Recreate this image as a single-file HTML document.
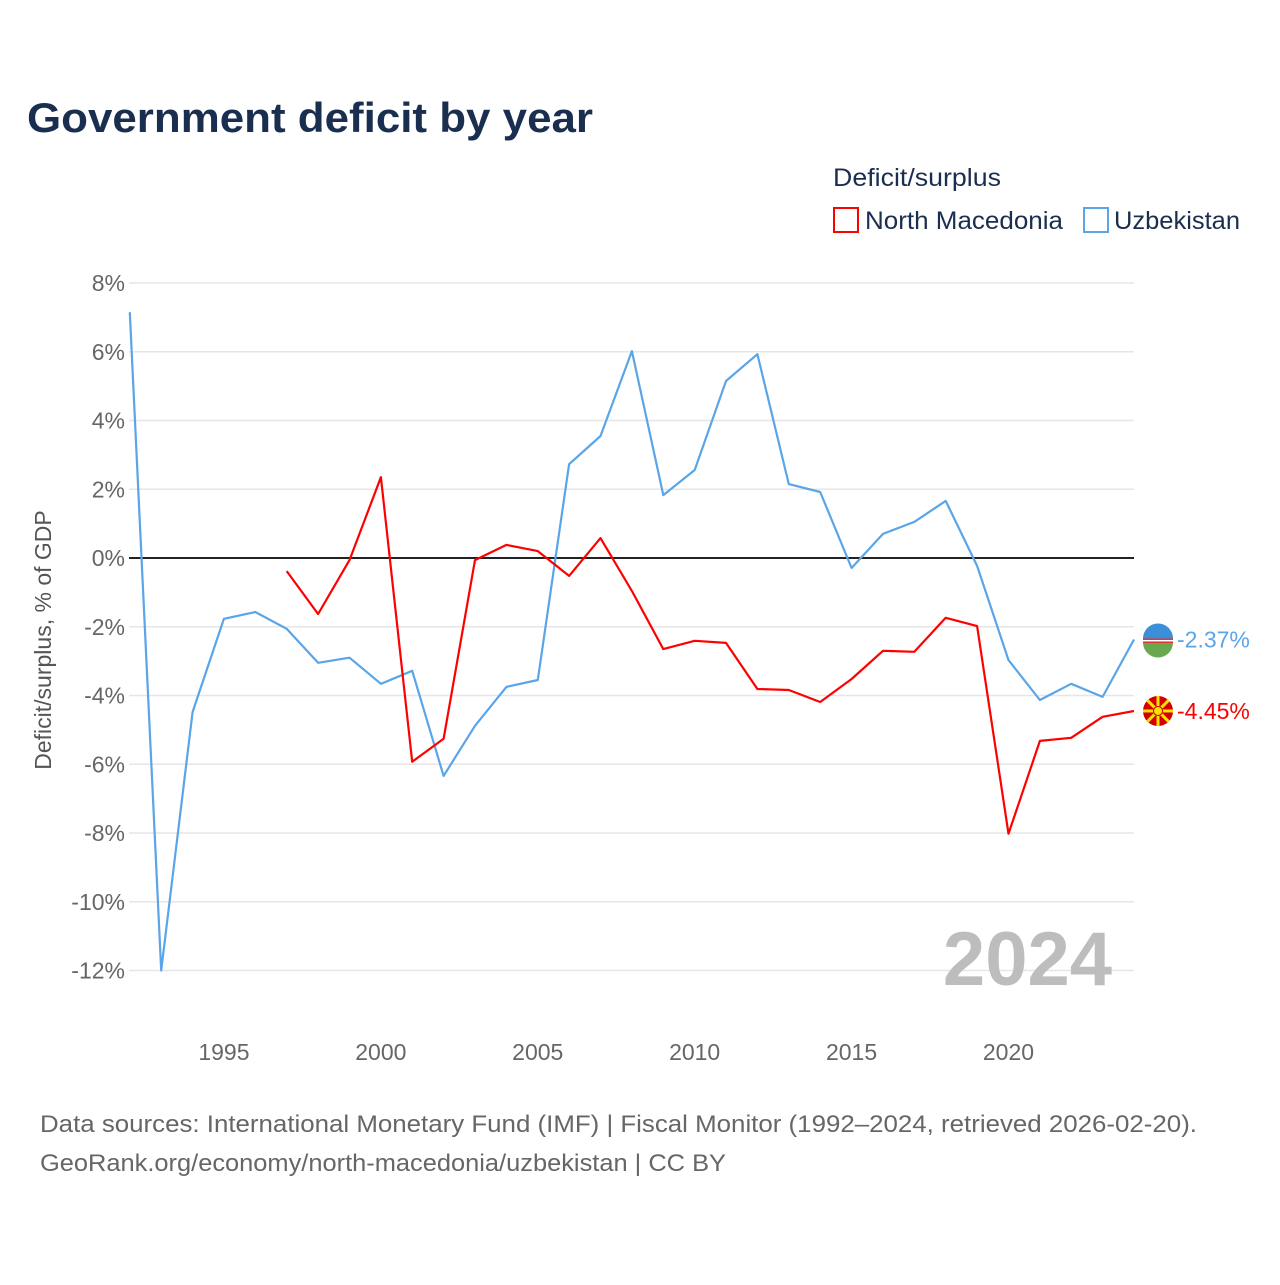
<!DOCTYPE html>
<html><head><meta charset="utf-8">
<style>
body{margin:0;background:#fff;font-family:"Liberation Sans",sans-serif;}
svg text{font-family:"Liberation Sans",sans-serif;}
</style></head>
<body>
<svg id="chart" width="1280" height="1280" viewBox="0 0 1280 1280">
<text x="27" y="132" font-size="42" font-weight="900" fill="#1a2e4f" textLength="566" lengthAdjust="spacingAndGlyphs">Government deficit by year</text>
<text x="833" y="186" font-size="25" fill="#1a2e4f" textLength="168" lengthAdjust="spacingAndGlyphs">Deficit/surplus</text>
<g>
<rect x="834" y="208" width="24" height="24" fill="#fff" stroke="#ff0000" stroke-width="2"/>
<text x="865" y="229" font-size="25" fill="#1a2e4f" textLength="198" lengthAdjust="spacingAndGlyphs">North Macedonia</text></g>
<g>
<rect x="1084" y="208" width="24" height="24" fill="#fff" stroke="#5aa5e8" stroke-width="2"/>
<text x="1114" y="229" font-size="25" fill="#1a2e4f" textLength="126" lengthAdjust="spacingAndGlyphs">Uzbekistan</text></g>
<g id="grid"></g>
<g id="yticks"></g>
<g id="xticks"></g>
<text transform="translate(51,640) rotate(-90)" text-anchor="middle" font-size="23" fill="#555">Deficit/surplus, % of GDP</text>
<text x="1112" y="985" text-anchor="end" font-size="76" font-weight="bold" fill="#bdbdbd">2024</text>
<g id="series"></g>
<text x="40" y="1132" font-size="24" fill="#666" textLength="1157" lengthAdjust="spacingAndGlyphs">Data sources: International Monetary Fund (IMF) | Fiscal Monitor (1992–2024, retrieved 2026-02-20).</text>
<text x="40" y="1171" font-size="24" fill="#666" textLength="686" lengthAdjust="spacingAndGlyphs">GeoRank.org/economy/north-macedonia/uzbekistan | CC BY</text>
</svg>
<script>
const years=[1992,1993,1994,1995,1996,1997,1998,1999,2000,2001,2002,2003,2004,2005,2006,2007,2008,2009,2010,2011,2012,2013,2014,2015,2016,2017,2018,2019,2020,2021,2022,2023,2024];
const uzbekistan=[7.15,-12.0,-4.48,-1.77,-1.57,-2.06,-3.05,-2.9,-3.66,-3.28,-6.34,-4.88,-3.75,-3.55,2.73,3.55,6.02,1.83,2.56,5.15,5.93,2.15,1.92,-0.29,0.70,1.05,1.66,-0.23,-2.97,-4.13,-3.66,-4.04,-2.37];
const northMacedonia=[null,null,null,null,null,-0.38,-1.63,-0.06,2.35,-5.93,-5.26,-0.06,0.38,0.2,-0.52,0.58,-0.96,-2.65,-2.41,-2.47,-3.81,-3.84,-4.19,-3.52,-2.70,-2.73,-1.74,-1.98,-8.02,-5.32,-5.23,-4.62,-4.45];
const yTicks=[8,6,4,2,0,-2,-4,-6,-8,-10,-12];
const xTicks=[1995,2000,2005,2010,2015,2020];
const NS='http://www.w3.org/2000/svg';
const xS=y=>129.8+(y-1992)*(1134-129.8)/32;
const yS=v=>558-v*34.375;
function mk(tag,attrs,parent){const e=document.createElementNS(NS,tag);for(const k in attrs)e.setAttribute(k,attrs[k]);parent.appendChild(e);return e;}
const grid=document.getElementById('grid'),yt=document.getElementById('yticks'),xt=document.getElementById('xticks'),ser=document.getElementById('series');
yTicks.forEach(t=>{
 const l=mk('line',{x1:129,x2:1134,y1:yS(t),y2:yS(t),stroke:t===0?'#222':'#e6e6e6','stroke-width':t===0?2:1.5},grid);
 
 
 const tx=mk('text',{x:125,y:yS(t)+8,'text-anchor':'end','font-size':23,fill:'#666'},yt);
 tx.textContent=t+'%';
 
 
});
xTicks.forEach(t=>{
 const tx=mk('text',{x:xS(t),y:1060,'text-anchor':'middle','font-size':23,fill:'#666'},xt);
 tx.textContent=t;
 
 
});
function line(vals,color,name,flag){
 let d='',pen=false;
 vals.forEach((v,i)=>{if(v===null){pen=false;return;}d+=(pen?'L':'M')+xS(years[i]).toFixed(1)+','+yS(v).toFixed(1);pen=true;});
 const p=mk('path',{d:d,fill:'none',stroke:color,'stroke-width':2.2,'stroke-linejoin':'round'},ser);
 
 
 const last=vals[vals.length-1],cx=xS(years[years.length-1])+24,cy=yS(last);
 const g=mk('g',{},ser);
 
 
 if(flag==='uz'){
  mk('circle',{cx:cx,cy:cy,r:15,fill:'#fff'},g);
  mk('path',{d:`M${cx-15},${cy-1} A15,15 0 0 1 ${cx+15},${cy-1} Z`,fill:'#3b8fd9'},g);
  mk('path',{d:`M${cx-15},${cy+3} A15,15 0 0 0 ${cx+15},${cy+3} Z`,fill:'#6aa84f'},g);
  mk('rect',{x:cx-15,y:cy-1,width:30,height:1.5,fill:'#d33'},g);
  mk('rect',{x:cx-15,y:cy+2,width:30,height:1.5,fill:'#d33'},g);
 } else {
  mk('circle',{cx:cx,cy:cy,r:15,fill:'#d20000'},g);
  for(let a=0;a<8;a++){const an=a*Math.PI/4;mk('line',{x1:cx,y1:cy,x2:cx+15*Math.cos(an),y2:cy+15*Math.sin(an),stroke:'#f8e000','stroke-width':3},g);}
  mk('circle',{cx:cx,cy:cy,r:4.5,fill:'#f8e000',stroke:'#d20000','stroke-width':1},g);
 }
 const tx=mk('text',{x:cx+19,y:cy+8,'font-size':23,fill:color},ser);
 tx.textContent=last.toFixed(2)+'%';
 
 
}
line(uzbekistan,'#5aa5e8','uzbekistan-line','uz');
line(northMacedonia,'#ff0000','north-macedonia-line','mk');
</script>
</body></html>
